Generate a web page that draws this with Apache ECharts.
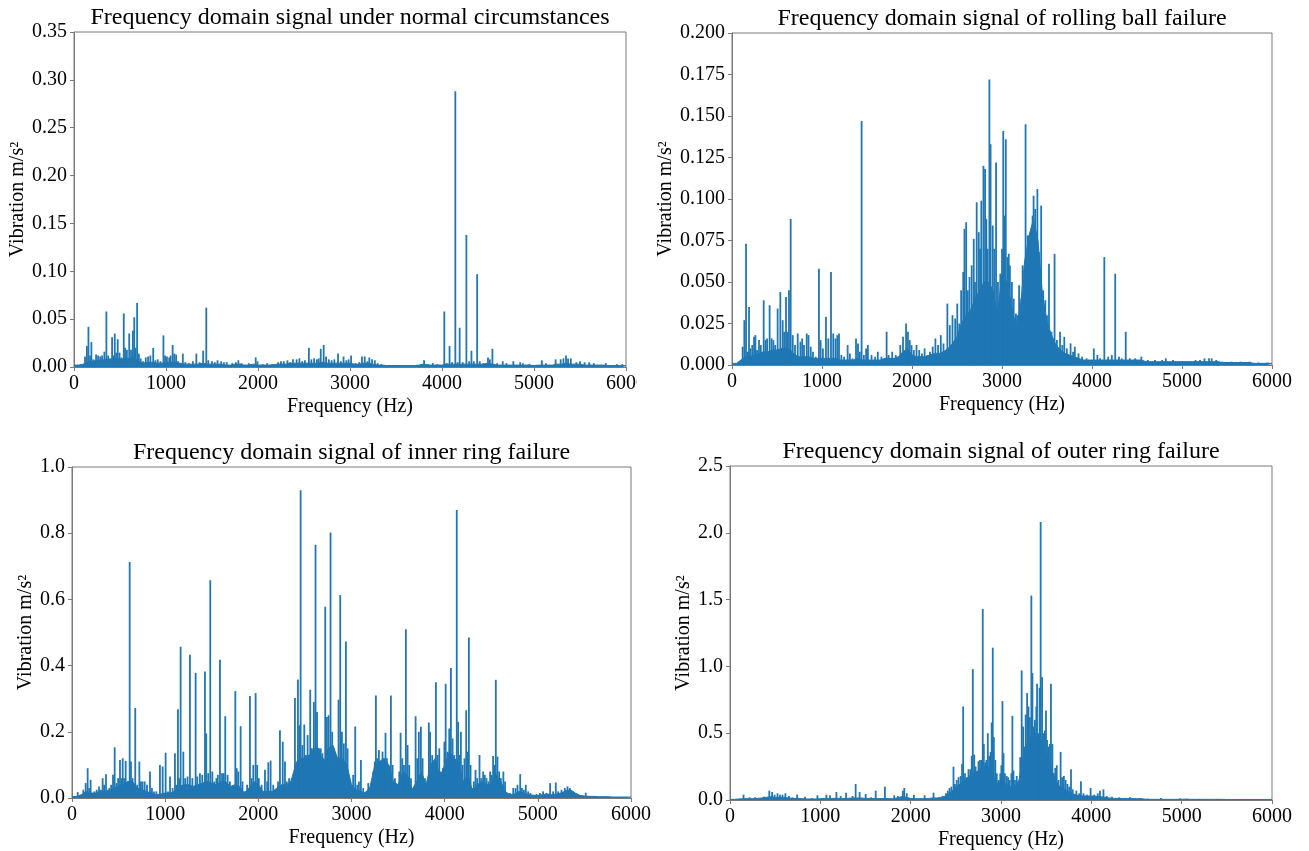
<!DOCTYPE html>
<html>
<head>
<meta charset="utf-8">
<title>Frequency domain signals</title>
<script src="https://cdn.jsdelivr.net/npm/echarts@6.0.0/dist/echarts.min.js"></script>
<style>
html,body{margin:0;padding:0;background:#ffffff;}
#chart{width:1309px;height:851px;}
</style>
</head>
<body>
<div id="chart"></div>
<script>
// ---------------- data ----------------
const freqTicksHz = [0, 1000, 2000, 3000, 4000, 5000, 6000];
const FLOOR_STEP_HZ = 50; // the dense "floor" envelope is sampled every 50 Hz

const panelTitles = [
  'Frequency domain signal under normal circumstances',
  'Frequency domain signal of rolling ball failure',
  'Frequency domain signal of inner ring failure',
  'Frequency domain signal of outer ring failure'
];
const xAxisTitle = 'Frequency (Hz)';
const yAxisTitle = 'Vibration m/s\u00B2';

// ---- normal circumstances ----
const normalFloor = [
  0.002,0.002,0.003,0.006,0.006,0.007,0.007,0.008,0.008,0.009,
  0.008,0.009,0.009,0.010,0.006,0.004,0.005,0.005,0.004,0.004,
  0.005,0.005,0.005,0.004,0.003,0.003,0.003,0.003,0.004,0.003,
  0.003,0.003,0.003,0.002,0.002,0.003,0.003,0.002,0.002,0.003,
  0.002,0.002,0.002,0.002,0.003,0.003,0.003,0.004,0.004,0.004,
  0.004,0.004,0.004,0.004,0.005,0.004,0.004,0.004,0.004,0.004,
  0.004,0.003,0.003,0.004,0.004,0.003,0.002,0.002,0.0015,0.0015,
  0.0015,0.0015,0.0015,0.0015,0.0015,0.002,0.003,0.002,0.002,0.002,
  0.002,0.003,0.003,0.003,0.003,0.003,0.003,0.003,0.003,0.003,
  0.004,0.003,0.002,0.002,0.002,0.002,0.002,0.002,0.002,0.002,
  0.0015,0.002,0.002,0.002,0.002,0.003,0.003,0.004,0.003,0.003,
  0.003,0.002,0.002,0.002,0.002,0.002,0.0015,0.0015,0.0015,0.0015,
  0.0015
];
const normalSpikes = [
  [120,0.011],[140,0.022],[157,0.042],[175,0.012],[189,0.026],[210,0.008],[240,0.013],[262,0.012],
  [285,0.011],[305,0.012],[330,0.016],[352,0.058],[372,0.012],[395,0.009],[414,0.031],[428,0.012],
  [443,0.035],[460,0.015],[475,0.029],[495,0.015],[515,0.010],[541,0.056],[555,0.020],[575,0.018],
  [600,0.035],[620,0.018],[640,0.038],[655,0.052],[668,0.020],[686,0.067],[705,0.014],[725,0.009],
  [750,0.006],[780,0.010],[805,0.011],[830,0.012],[861,0.020],[885,0.007],[910,0.008],[940,0.006],
  [972,0.033],[990,0.012],[1010,0.011],[1035,0.010],[1050,0.012],[1072,0.023],[1090,0.014],[1110,0.013],
  [1130,0.006],[1183,0.014],[1210,0.005],[1250,0.004],[1292,0.006],[1330,0.014],[1365,0.005],[1404,0.017],
  [1438,0.062],[1460,0.007],[1500,0.006],[1530,0.005],[1560,0.007],[1600,0.006],[1630,0.005],[1660,0.005],
  [1720,0.004],[1760,0.005],[1787,0.007],[1820,0.004],[1900,0.004],[1975,0.010],[1995,0.006],[2050,0.003],
  [2100,0.004],[2150,0.003],[2220,0.005],[2250,0.006],[2280,0.006],[2320,0.007],[2350,0.005],[2380,0.008],
  [2420,0.008],[2450,0.009],[2480,0.006],[2510,0.007],[2553,0.020],[2580,0.008],[2610,0.009],[2640,0.008],
  [2660,0.009],[2682,0.019],[2714,0.023],[2740,0.011],[2770,0.008],[2800,0.007],[2830,0.008],[2870,0.014],
  [2900,0.006],[2930,0.011],[2960,0.007],[2985,0.008],[3012,0.012],[3060,0.004],[3100,0.005],[3130,0.011],
  [3160,0.011],[3190,0.006],[3210,0.010],[3240,0.008],[3270,0.007],[3300,0.004],[3340,0.003],[3780,0.003],
  [3805,0.007],[3850,0.003],[3900,0.004],[3950,0.003],[4025,0.058],[4050,0.004],[4082,0.022],[4110,0.005],
  [4145,0.288],[4170,0.005],[4192,0.041],[4225,0.005],[4265,0.138],[4295,0.006],[4320,0.017],[4345,0.006],
  [4382,0.097],[4410,0.006],[4450,0.004],[4500,0.010],[4520,0.008],[4548,0.019],[4600,0.004],[4660,0.006],
  [4700,0.004],[4775,0.006],[4850,0.005],[4880,0.004],[4950,0.003],[5085,0.007],[5130,0.004],[5235,0.008],
  [5290,0.008],[5320,0.009],[5348,0.012],[5370,0.009],[5400,0.009],[5460,0.005],[5500,0.006],[5550,0.005],
  [5600,0.005],[5650,0.004],[5780,0.004],[5900,0.003],[5960,0.003]
];

// ---- rolling ball failure ----
const ballFloor = [
  0.001,0.001,0.003,0.005,0.005,0.006,0.007,0.008,0.008,0.009,
  0.009,0.010,0.010,0.009,0.006,0.005,0.005,0.005,0.004,0.004,
  0.004,0.004,0.004,0.004,0.003,0.003,0.003,0.003,0.004,0.003,
  0.003,0.003,0.003,0.003,0.004,0.004,0.004,0.005,0.008,0.010,
  0.006,0.005,0.005,0.005,0.006,0.007,0.007,0.008,0.010,0.013,
  0.017,0.025,0.030,0.033,0.040,0.045,0.050,0.050,0.045,0.030,
  0.055,0.050,0.038,0.024,0.032,0.062,0.078,0.088,0.075,0.042,
  0.026,0.018,0.012,0.009,0.007,0.006,0.005,0.004,0.003,0.003,
  0.003,0.003,0.003,0.003,0.003,0.003,0.003,0.003,0.003,0.003,
  0.003,0.003,0.002,0.002,0.002,0.002,0.002,0.002,0.002,0.002,
  0.002,0.002,0.002,0.002,0.002,0.002,0.002,0.002,0.002,0.0015,
  0.0015,0.0015,0.0015,0.0015,0.0015,0.0015,0.001,0.001,0.001,0.001,
  0.001
];
const ballSpikes = [
  [118,0.011],[137,0.027],[156,0.073],[175,0.008],[189,0.035],[205,0.010],[225,0.012],[245,0.017],
  [260,0.018],[278,0.009],[300,0.015],[320,0.012],[352,0.039],[372,0.015],[390,0.016],[418,0.036],
  [440,0.016],[460,0.015],[480,0.012],[507,0.034],[537,0.044],[563,0.027],[580,0.020],[600,0.041],
  [615,0.020],[633,0.045],[652,0.088],[675,0.018],[700,0.012],[730,0.019],[760,0.014],[780,0.016],
  [800,0.012],[830,0.019],[850,0.018],[875,0.011],[900,0.008],[930,0.005],[966,0.058],[985,0.015],
  [1010,0.010],[1044,0.029],[1070,0.016],[1100,0.056],[1125,0.019],[1150,0.016],[1170,0.018],[1189,0.019],
  [1215,0.006],[1245,0.005],[1285,0.012],[1310,0.007],[1340,0.004],[1378,0.016],[1400,0.013],[1420,0.008],
  [1440,0.147],[1465,0.006],[1490,0.010],[1510,0.012],[1550,0.006],[1590,0.005],[1620,0.008],[1660,0.005],
  [1718,0.020],[1740,0.006],[1780,0.008],[1820,0.006],[1870,0.012],[1900,0.017],[1934,0.025],[1955,0.020],
  [1975,0.015],[1995,0.012],[2020,0.009],[2050,0.012],[2080,0.009],[2110,0.007],[2140,0.010],[2170,0.006],
  [2200,0.008],[2230,0.011],[2260,0.016],[2290,0.012],[2320,0.018],[2350,0.013],[2393,0.037],[2420,0.024],
  [2450,0.030],[2480,0.028],[2503,0.037],[2525,0.025],[2546,0.045],[2569,0.056],[2583,0.082],[2602,0.086],
  [2620,0.045],[2639,0.053],[2663,0.060],[2686,0.076],[2700,0.050],[2719,0.098],[2742,0.080],[2756,0.070],
  [2770,0.099],[2794,0.120],[2812,0.118],[2826,0.088],[2840,0.070],[2860,0.172],[2873,0.133],[2897,0.084],
  [2915,0.070],[2934,0.122],[2955,0.050],[2981,0.055],[3000,0.070],[3014,0.141],[3030,0.090],[3042,0.136],
  [3060,0.065],[3075,0.067],[3088,0.060],[3110,0.050],[3130,0.040],[3154,0.031],[3170,0.030],[3190,0.048],
  [3215,0.040],[3229,0.060],[3262,0.145],[3285,0.078],[3300,0.078],[3320,0.080],[3340,0.090],[3351,0.102],
  [3369,0.094],[3393,0.106],[3411,0.068],[3435,0.096],[3458,0.045],[3481,0.039],[3500,0.030],[3522,0.061],
  [3550,0.020],[3584,0.067],[3610,0.015],[3645,0.020],[3670,0.012],[3692,0.017],[3720,0.010],[3762,0.013],
  [3790,0.008],[3809,0.011],[3850,0.007],[3890,0.005],[3940,0.004],[4020,0.010],[4060,0.006],[4090,0.004],
  [4137,0.065],[4180,0.005],[4220,0.006],[4258,0.055],[4300,0.005],[4330,0.004],[4375,0.020],[4420,0.004],
  [4480,0.004],[4548,0.005],[4620,0.003],[4700,0.003],[4780,0.003],[4820,0.004],[4900,0.003],[4980,0.002],
  [5050,0.002],[5150,0.003],[5200,0.003],[5250,0.004],[5300,0.004],[5330,0.004],[5380,0.003],[5450,0.002],
  [5550,0.002],[5650,0.002],[5750,0.002],[5850,0.0015],[5950,0.0015]
];

// ---- inner ring failure ----
const innerFloor = [
  0.004,0.005,0.010,0.020,0.015,0.015,0.020,0.020,0.020,0.030,
  0.035,0.040,0.050,0.050,0.030,0.025,0.020,0.015,0.010,0.012,
  0.015,0.015,0.020,0.035,0.040,0.040,0.035,0.040,0.045,0.050,
  0.045,0.040,0.050,0.050,0.035,0.040,0.035,0.015,0.030,0.050,
  0.040,0.020,0.020,0.020,0.030,0.040,0.040,0.050,0.100,0.120,
  0.120,0.130,0.150,0.150,0.100,0.150,0.160,0.120,0.120,0.100,
  0.040,0.025,0.020,0.015,0.035,0.100,0.110,0.120,0.100,0.050,
  0.040,0.080,0.070,0.025,0.050,0.080,0.040,0.100,0.120,0.060,
  0.100,0.140,0.120,0.110,0.050,0.070,0.020,0.040,0.050,0.040,
  0.040,0.070,0.050,0.020,0.010,0.012,0.020,0.015,0.010,0.008,
  0.008,0.010,0.012,0.010,0.012,0.015,0.022,0.025,0.015,0.008,
  0.006,0.005,0.005,0.004,0.004,0.004,0.003,0.003,0.003,0.003,
  0.003
];
const innerSpikes = [
  [61,0.018],[122,0.025],[147,0.045],[168,0.090],[185,0.030],[200,0.055],[215,0.015],[240,0.020],
  [265,0.025],[290,0.035],[310,0.025],[329,0.060],[345,0.040],[365,0.072],[385,0.025],[400,0.030],
  [420,0.040],[440,0.070],[458,0.153],[478,0.045],[495,0.060],[515,0.115],[530,0.060],[544,0.120],
  [560,0.060],[576,0.112],[598,0.050],[619,0.713],[633,0.110],[650,0.060],[679,0.272],[700,0.040],
  [723,0.110],[740,0.050],[757,0.050],[780,0.050],[805,0.040],[837,0.080],[858,0.030],[880,0.020],
  [905,0.020],[944,0.100],[973,0.095],[1005,0.137],[1030,0.020],[1052,0.065],[1080,0.030],[1105,0.135],
  [1120,0.040],[1137,0.268],[1152,0.060],[1166,0.457],[1195,0.140],[1215,0.060],[1240,0.065],[1266,0.433],
  [1292,0.060],[1327,0.378],[1345,0.065],[1373,0.075],[1398,0.070],[1427,0.382],[1441,0.195],[1462,0.075],
  [1484,0.658],[1506,0.080],[1528,0.050],[1550,0.060],[1565,0.070],[1588,0.418],[1610,0.075],[1628,0.075],
  [1645,0.247],[1670,0.070],[1695,0.050],[1715,0.030],[1753,0.323],[1768,0.090],[1785,0.080],[1810,0.217],
  [1830,0.050],[1855,0.020],[1880,0.040],[1910,0.308],[1928,0.060],[1946,0.100],[1971,0.317],[1988,0.100],
  [2005,0.060],[2035,0.040],[2050,0.020],[2071,0.085],[2095,0.050],[2107,0.108],[2132,0.113],[2160,0.040],
  [2185,0.020],[2212,0.050],[2232,0.205],[2262,0.170],[2286,0.110],[2305,0.050],[2330,0.060],[2358,0.060],
  [2393,0.302],[2410,0.110],[2425,0.358],[2440,0.220],[2454,0.930],[2473,0.160],[2493,0.222],[2510,0.130],
  [2529,0.190],[2545,0.130],[2557,0.327],[2575,0.150],[2596,0.290],[2614,0.765],[2630,0.260],[2648,0.150],
  [2670,0.150],[2688,0.135],[2700,0.120],[2718,0.578],[2736,0.245],[2754,0.250],[2775,0.802],[2793,0.200],
  [2811,0.150],[2840,0.100],[2861,0.297],[2879,0.613],[2897,0.200],[2918,0.165],[2940,0.473],[2958,0.150],
  [2985,0.050],[3018,0.070],[3040,0.216],[3062,0.040],[3080,0.050],[3101,0.115],[3126,0.030],[3155,0.020],
  [3180,0.045],[3205,0.030],[3234,0.080],[3250,0.110],[3262,0.310],[3276,0.120],[3294,0.145],[3312,0.110],
  [3333,0.140],[3348,0.110],[3365,0.197],[3380,0.120],[3398,0.100],[3423,0.310],[3441,0.100],[3466,0.060],
  [3491,0.040],[3513,0.080],[3527,0.197],[3545,0.120],[3563,0.100],[3584,0.510],[3602,0.160],[3620,0.100],
  [3638,0.060],[3663,0.030],[3688,0.247],[3706,0.120],[3723,0.200],[3745,0.215],[3763,0.120],[3788,0.060],
  [3813,0.040],[3830,0.228],[3844,0.200],[3866,0.130],[3906,0.350],[3924,0.130],[3942,0.150],[3960,0.080],
  [3981,0.090],[3997,0.170],[4011,0.345],[4030,0.140],[4049,0.210],[4067,0.393],[4085,0.180],[4103,0.130],
  [4130,0.870],[4145,0.230],[4163,0.130],[4174,0.200],[4192,0.100],[4213,0.120],[4231,0.265],[4245,0.140],
  [4260,0.485],[4278,0.100],[4296,0.030],[4313,0.050],[4331,0.085],[4349,0.060],[4374,0.130],[4392,0.060],
  [4413,0.080],[4431,0.070],[4449,0.060],[4470,0.050],[4488,0.080],[4506,0.070],[4520,0.127],[4538,0.100],
  [4549,0.357],[4567,0.125],[4585,0.080],[4603,0.060],[4630,0.080],[4648,0.050],[4665,0.010],[4700,0.015],
  [4736,0.030],[4761,0.030],[4782,0.040],[4811,0.072],[4829,0.030],[4850,0.025],[4871,0.040],[4896,0.020],
  [4921,0.015],[4950,0.010],[4986,0.012],[5022,0.015],[5057,0.020],[5093,0.015],[5132,0.045],[5164,0.020],
  [5193,0.047],[5218,0.020],[5254,0.025],[5290,0.030],[5318,0.035],[5343,0.030],[5379,0.020],[5415,0.010],
  [5450,0.008],[5514,0.016],[5557,0.006],[5629,0.006],[5736,0.004],[5915,0.003]
];

// ---- outer ring failure ----
const outerFloor = [
  0.005,0.005,0.008,0.010,0.010,0.010,0.012,0.015,0.020,0.025,
  0.020,0.020,0.020,0.015,0.012,0.010,0.010,0.008,0.008,0.008,
  0.010,0.012,0.012,0.012,0.012,0.012,0.012,0.015,0.015,0.015,
  0.012,0.010,0.012,0.010,0.012,0.010,0.010,0.015,0.025,0.020,
  0.012,0.010,0.010,0.010,0.012,0.015,0.015,0.020,0.035,0.060,
  0.100,0.120,0.150,0.180,0.200,0.220,0.250,0.250,0.200,0.120,
  0.150,0.120,0.100,0.100,0.150,0.350,0.450,0.500,0.500,0.450,
  0.350,0.250,0.150,0.100,0.080,0.060,0.045,0.035,0.030,0.030,
  0.030,0.028,0.025,0.020,0.015,0.012,0.012,0.012,0.012,0.012,
  0.010,0.010,0.006,0.005,0.005,0.005,0.005,0.005,0.005,0.005,
  0.006,0.006,0.005,0.005,0.005,0.005,0.005,0.005,0.005,0.005,
  0.004,0.004,0.004,0.004,0.004,0.004,0.004,0.004,0.004,0.004,
  0.004
];
const outerSpikes = [
  [150,0.04],[217,0.02],[277,0.02],[375,0.025],[435,0.07],[466,0.06],[494,0.04],[526,0.05],
  [553,0.04],[581,0.04],[613,0.05],[652,0.03],[692,0.02],[743,0.04],[830,0.025],[909,0.015],
  [968,0.035],[1067,0.04],[1107,0.035],[1178,0.06],[1225,0.03],[1285,0.055],[1356,0.03],[1391,0.12],
  [1435,0.06],[1502,0.045],[1561,0.02],[1613,0.07],[1715,0.10],[1818,0.035],[1858,0.03],[1913,0.07],
  [1929,0.09],[1957,0.05],[2036,0.04],[2154,0.035],[2253,0.055],[2312,0.02],[2352,0.03],[2391,0.05],
  [2411,0.07],[2431,0.09],[2451,0.10],[2474,0.25],[2490,0.12],[2510,0.15],[2530,0.17],[2553,0.18],
  [2569,0.27],[2581,0.70],[2601,0.20],[2621,0.17],[2640,0.23],[2660,0.23],[2676,0.33],[2688,0.98],
  [2704,0.34],[2719,0.25],[2735,0.20],[2751,0.29],[2767,0.30],[2783,0.30],[2798,1.43],[2810,0.42],
  [2826,0.28],[2838,0.30],[2854,0.50],[2870,0.33],[2885,0.36],[2897,0.58],[2909,1.14],[2921,0.47],
  [2937,0.30],[2953,0.20],[2972,0.15],[2992,0.20],[3004,0.26],[3016,0.74],[3028,0.35],[3043,0.20],
  [3063,0.18],[3079,0.17],[3095,0.15],[3115,0.20],[3126,0.63],[3138,0.22],[3154,0.15],[3174,0.18],
  [3194,0.13],[3213,0.32],[3229,0.97],[3245,0.55],[3261,0.40],[3273,0.64],[3289,0.80],[3304,0.70],
  [3320,0.62],[3336,1.53],[3348,0.95],[3360,0.55],[3375,0.60],[3391,0.70],[3399,0.87],[3415,0.50],
  [3427,0.84],[3439,2.08],[3455,0.92],[3470,0.50],[3486,0.52],[3498,0.67],[3510,0.45],[3526,0.40],
  [3542,0.42],[3553,0.87],[3569,0.42],[3585,0.20],[3601,0.24],[3617,0.26],[3636,0.15],[3660,0.36],
  [3676,0.17],[3696,0.18],[3715,0.15],[3735,0.12],[3755,0.10],[3775,0.23],[3794,0.08],[3834,0.07],
  [3866,0.05],[3885,0.14],[3913,0.05],[3953,0.04],[3992,0.09],[4032,0.04],[4071,0.05],[4095,0.07],
  [4134,0.08],[4170,0.03],[4229,0.025],[4308,0.02],[4427,0.02],[4545,0.015],[4625,0.01],[4771,0.015],
  [4980,0.012],[5059,0.01],[5200,0.008],[5400,0.008],[5600,0.007],[5800,0.006]
];

// y-axis ranges for the four panels
const yMaxes = [0.35, 0.2, 1.0, 2.5];
const yIntervals = [0.05, 0.025, 0.2, 0.5];
const yDecimals = [2, 3, 1, 1];

// ---------------- layout / styles ----------------
const FONT = '"Liberation Serif", "Times New Roman", serif';
const BLUE = '#1f77b4';
const SPINE = '#7a7a7a';

const layout = [
  { grid: { left: 74, top: 32, width: 552, height: 335 }, yNameGap: 44, titleY: 18 },
  { grid: { left: 732, top: 33, width: 540, height: 332 }, yNameGap: 48, titleY: 19 },
  { grid: { left: 72, top: 467, width: 559, height: 331 }, yNameGap: 35, titleY: 453 },
  { grid: { left: 730, top: 466, width: 542, height: 335 }, yNameGap: 33, titleY: 452 }
];
const floors = [normalFloor, ballFloor, innerFloor, outerFloor];
const spikes = [normalSpikes, ballSpikes, innerSpikes, outerSpikes];

const grids = [], xAxes = [], yAxes = [], series = [], graphics = [];
layout.forEach((p, i) => {
  grids.push(Object.assign({ show: true, borderColor: SPINE, borderWidth: 1, backgroundColor: 'transparent', containLabel: false }, p.grid));
  xAxes.push({
    type: 'value', gridIndex: i, min: freqTicksHz[0], max: freqTicksHz[freqTicksHz.length - 1],
    interval: freqTicksHz[1] - freqTicksHz[0],
    axisLine: { show: true, onZero: false, lineStyle: { color: SPINE, width: 1 } },
    axisTick: { show: true, inside: false, length: 4, lineStyle: { color: SPINE, width: 1 } },
    axisLabel: { fontFamily: FONT, fontSize: 20, color: '#000', margin: 7, formatter: v => String(v) },
    splitLine: { show: false },
    name: xAxisTitle, nameLocation: 'middle', nameGap: 30,
    nameTextStyle: { fontFamily: FONT, fontSize: 20, color: '#000' }
  });
  yAxes.push({
    type: 'value', gridIndex: i, min: 0, max: yMaxes[i], interval: yIntervals[i],
    axisLine: { show: true, lineStyle: { color: SPINE, width: 1 } },
    axisTick: { show: true, inside: false, length: 4, lineStyle: { color: SPINE, width: 1 } },
    axisLabel: { fontFamily: FONT, fontSize: 20, color: '#000', margin: 7,
      formatter: v => Number(v).toFixed(yDecimals[i]) },
    splitLine: { show: false },
    name: yAxisTitle, nameLocation: 'middle', nameGap: p.yNameGap, nameRotate: 90,
    nameTextStyle: { fontFamily: FONT, fontSize: 20, color: '#000' }
  });
  series.push({
    type: 'line', xAxisIndex: i, yAxisIndex: i, z: 2,
    data: floors[i].map((v, k) => [k * FLOOR_STEP_HZ, v]),
    symbol: 'none', showSymbol: false, silent: true,
    lineStyle: { color: BLUE, width: 1 },
    areaStyle: { color: BLUE, opacity: 1 },
    animation: false
  });
  series.push({
    type: 'bar', xAxisIndex: i, yAxisIndex: i, z: 3,
    data: spikes[i], barWidth: 1.8, silent: true,
    itemStyle: { color: BLUE },
    animation: false
  });
  graphics.push({
    type: 'text', z: 10,
    x: p.grid.left + p.grid.width / 2, y: p.titleY,
    style: { text: panelTitles[i], fill: '#000', font: '24px ' + FONT,
      align: 'center', verticalAlign: 'middle', textAlign: 'center', textVerticalAlign: 'middle' }
  });
});
// the reference figure is cropped just right of the first panel (its "6000" label is cut)
graphics.push({ type: 'rect', z: 100, shape: { x: 637, y: 369, width: 30, height: 26 }, style: { fill: '#ffffff' } });

const chart = echarts.init(document.getElementById('chart'), null, { renderer: 'canvas' });
chart.setOption({
  animation: false,
  backgroundColor: '#ffffff',
  grid: grids, xAxis: xAxes, yAxis: yAxes, series: series, graphic: graphics
});
</script>
</body>
</html>
